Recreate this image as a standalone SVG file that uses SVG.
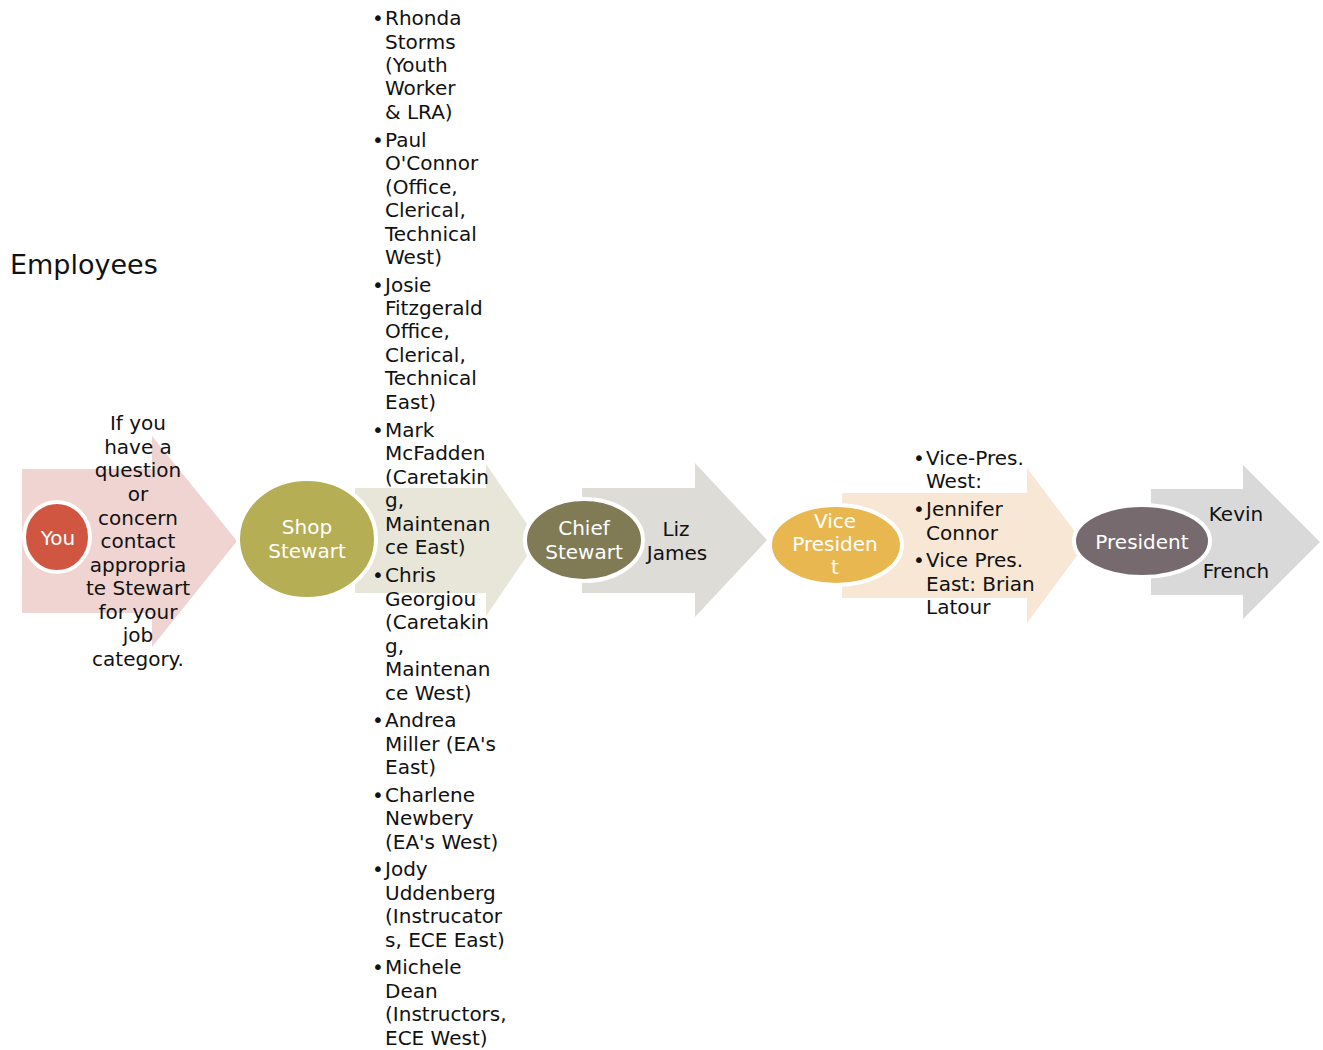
<svg xmlns="http://www.w3.org/2000/svg" width="1323" height="1050" viewBox="0 0 1323 1050">
<style>
text{font-family:"DejaVu Sans","Liberation Sans",sans-serif;font-size:20px;fill:#111}
.w{fill:#fff}
.c{text-anchor:middle}
.node{stroke:#fff;stroke-width:4}
</style>
<rect width="1323" height="1050" fill="#fff"/>
<g id="connectors">
<polygon fill="#f0d4d1" points="22,469 152,469 152,436 237,541 152,647 152,613 22,613"/>
<polygon fill="#e7e6d8" points="355,488 486,488 486,464 538,540 486,616 486,593 355,593"/>
<polygon fill="#dddcd7" points="582,488 695,488 695,463 767,540 695,617 695,593 582,593"/>
<polygon fill="#f7e7d4" points="842,493 1027,493 1027,468 1085,545 1027,623 1027,598 842,598"/>
<polygon fill="#dad9da" points="1151,489 1243,489 1243,465 1320,542 1243,619 1243,595 1151,595"/>
</g>
<g id="employees"><text x="10" y="274" style="font-size:27px">Employees</text></g>
<g id="you">
<ellipse class="node" cx="57" cy="537" rx="33" ry="35" fill="#d15641"/>
<text class="w c" x="58" y="545">You</text>
<text class="c" x="138"><tspan x="138" y="430">If you</tspan><tspan x="138" y="454">have a</tspan><tspan x="138" y="477">question</tspan><tspan x="138" y="501">or</tspan><tspan x="138" y="525">concern</tspan><tspan x="138" y="548">contact</tspan><tspan x="138" y="572">appropria</tspan><tspan x="138" y="595">te Stewart</tspan><tspan x="138" y="619">for your</tspan><tspan x="138" y="642">job</tspan><tspan x="138" y="666">category.</tspan></text>
</g>
<g id="shop-stewart">
<ellipse class="node" cx="307" cy="539" rx="69" ry="60" fill="#b6ae55"/>
<text class="w c" x="307" y="534">Shop</text>
<text class="w c" x="307" y="558">Stewart</text>
<text x="385">
<tspan x="372" y="25">•</tspan><tspan x="385" y="25">Rhonda</tspan><tspan x="385" y="49">Storms</tspan><tspan x="385" y="72">(Youth</tspan><tspan x="385" y="95">Worker</tspan><tspan x="385" y="119">&amp; LRA)</tspan>
<tspan x="372" y="147">•</tspan><tspan x="385" y="147">Paul</tspan><tspan x="385" y="170">O'Connor</tspan><tspan x="385" y="194">(Office,</tspan><tspan x="385" y="217">Clerical,</tspan><tspan x="385" y="241">Technical</tspan><tspan x="385" y="264">West)</tspan>
<tspan x="372" y="292">•</tspan><tspan x="385" y="292">Josie</tspan><tspan x="385" y="315">Fitzgerald</tspan><tspan x="385" y="338">Office,</tspan><tspan x="385" y="362">Clerical,</tspan><tspan x="385" y="385">Technical</tspan><tspan x="385" y="409">East)</tspan>
<tspan x="372" y="437">•</tspan><tspan x="385" y="437">Mark</tspan><tspan x="385" y="460">McFadden</tspan><tspan x="385" y="484">(Caretakin</tspan><tspan x="385" y="507">g,</tspan><tspan x="385" y="531">Maintenan</tspan><tspan x="385" y="554">ce East)</tspan>
<tspan x="372" y="582">•</tspan><tspan x="385" y="582">Chris</tspan><tspan x="385" y="606">Georgiou</tspan><tspan x="385" y="629">(Caretakin</tspan><tspan x="385" y="653">g,</tspan><tspan x="385" y="676">Maintenan</tspan><tspan x="385" y="700">ce West)</tspan>
<tspan x="372" y="727">•</tspan><tspan x="385" y="727">Andrea</tspan><tspan x="385" y="751">Miller (EA's</tspan><tspan x="385" y="774">East)</tspan>
<tspan x="372" y="802">•</tspan><tspan x="385" y="802">Charlene</tspan><tspan x="385" y="825">Newbery</tspan><tspan x="385" y="849">(EA's West)</tspan>
<tspan x="372" y="876">•</tspan><tspan x="385" y="876">Jody</tspan><tspan x="385" y="900">Uddenberg</tspan><tspan x="385" y="923">(Instrucator</tspan><tspan x="385" y="947">s, ECE East)</tspan>
<tspan x="372" y="974">•</tspan><tspan x="385" y="974">Michele</tspan><tspan x="385" y="998">Dean</tspan><tspan x="385" y="1021">(Instructors,</tspan><tspan x="385" y="1045">ECE West)</tspan>
</text>
</g>
<g id="chief-stewart">
<ellipse class="node" cx="584" cy="540" rx="59" ry="41" fill="#807b54"/>
<text class="w c" x="584" y="535">Chief</text>
<text class="w c" x="584" y="559">Stewart</text>
<text class="c" x="676" y="536">Liz</text>
<text class="c" x="677" y="560">James</text>
</g>
<g id="vice-president">
<ellipse class="node" cx="836" cy="545" rx="66" ry="40" fill="#e8b74f"/>
<text class="w c" x="835" y="528">Vice</text>
<text class="w c" x="835" y="551">Presiden</text>
<text class="w c" x="835" y="574">t</text>
<text>
<tspan x="913" y="465">•</tspan><tspan x="926" y="465">Vice-Pres.</tspan><tspan x="926" y="488">West:</tspan>
<tspan x="913" y="516">•</tspan><tspan x="926" y="516">Jennifer</tspan><tspan x="926" y="540">Connor</tspan>
<tspan x="913" y="567">•</tspan><tspan x="926" y="567">Vice Pres.</tspan><tspan x="926" y="591">East: Brian</tspan><tspan x="926" y="614">Latour</tspan>
</text>
</g>
<g id="president">
<ellipse class="node" cx="1142" cy="541" rx="68" ry="36" fill="#766a6e"/>
<text class="w c" x="1142" y="549">President</text>
<text class="c" x="1236" y="521">Kevin</text>
<text class="c" x="1236" y="578">French</text>
</g>
</svg>
